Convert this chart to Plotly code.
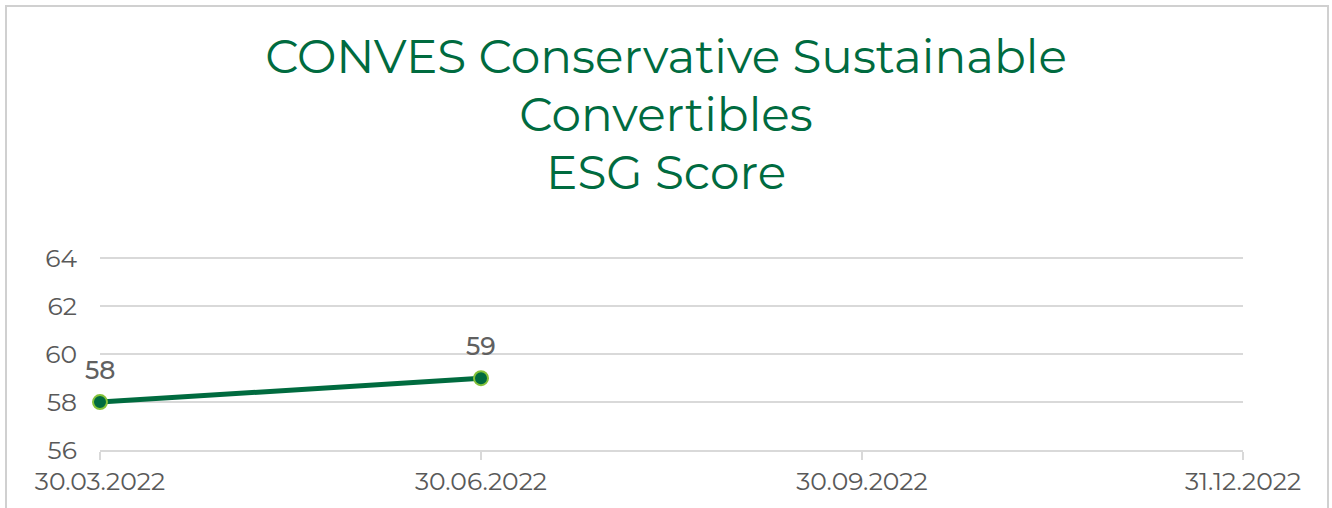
import plotly.graph_objects as go

dates = ["30.03.2022", "30.06.2022", "30.09.2022", "31.12.2022"]
score_dates = ["30.03.2022", "30.06.2022"]
scores = [58, 59]
y_ticks = [56, 58, 60, 62, 64]
title_lines = ["CONVES Conservative Sustainable", "Convertibles", "ESG Score"]

W, H = 1332, 508
ml, mr, mt, mb = 100, 89, 256, 58
pw, ph = W - ml - mr, H - mt - mb

def px_x(p):
    return (p - ml) / pw

def px_y(p):
    return (H - mb - p) / ph

green = "#006B3F"
gray_txt = "#595959"
fam = "Montserrat, Lato, Noto Sans"

fig = go.Figure()
fig.add_trace(go.Scatter(x=dates, y=[None] * 4, showlegend=False, hoverinfo="skip"))
fig.add_trace(go.Scatter(
    x=score_dates, y=scores, mode="lines+markers",
    line=dict(color=green, width=5),
    marker=dict(size=14, color=green, line=dict(color="#84C23A", width=2)),
    cliponaxis=False, showlegend=False,
))

for d, v in zip(score_dates, scores):
    fig.add_annotation(x=d, y=v, text=str(v), showarrow=False, yshift=32,
                       font=dict(size=25, color="#606060", family=fam, weight=500))

title_text = "<br>".join(f"<span style='font-size:47px'>{t}</span>" for t in title_lines)

fig.update_layout(
    width=W, height=H,
    margin=dict(l=ml, r=mr, t=mt, b=mb, autoexpand=False),
    paper_bgcolor="white", plot_bgcolor="white",
    title=dict(
        text=title_text,
        x=0.5, xref="container", xanchor="center",
        yref="container", y=1 - 73 / H, yanchor="middle",
        font=dict(size=44.6, color=green, family=fam),
    ),
    font=dict(family=fam, color=gray_txt),
    xaxis=dict(
        type="category", categoryarray=dates, categoryorder="array",
        range=[0, 3], showgrid=False, zeroline=False, automargin=False,
        showline=True, linecolor="#d9d9d9", linewidth=2,
        ticks="outside", ticklen=8, tickcolor="#d9d9d9", tickwidth=2,
        tickfont=dict(size=25, color=gray_txt), ticklabelstandoff=0,
    ),
    yaxis=dict(
        range=[56, 64.1], tickvals=y_ticks, showgrid=True, automargin=False,
        gridcolor="#d9d9d9", gridwidth=2, zeroline=False, showline=False,
        tickfont=dict(size=25, color=gray_txt), ticks="", ticklabelstandoff=22,
    ),
    shapes=[dict(
        type="rect", xref="paper", yref="paper",
        x0=px_x(6), x1=px_x(1328), y0=px_y(530), y1=px_y(6),
        line=dict(color="#d0d0d0", width=2), fillcolor="rgba(0,0,0,0)",
        layer="below",
    )],
)

fig.write_html("out.html", config={"displayModeBar": False},
               post_script="document.body.style.margin='0';")
